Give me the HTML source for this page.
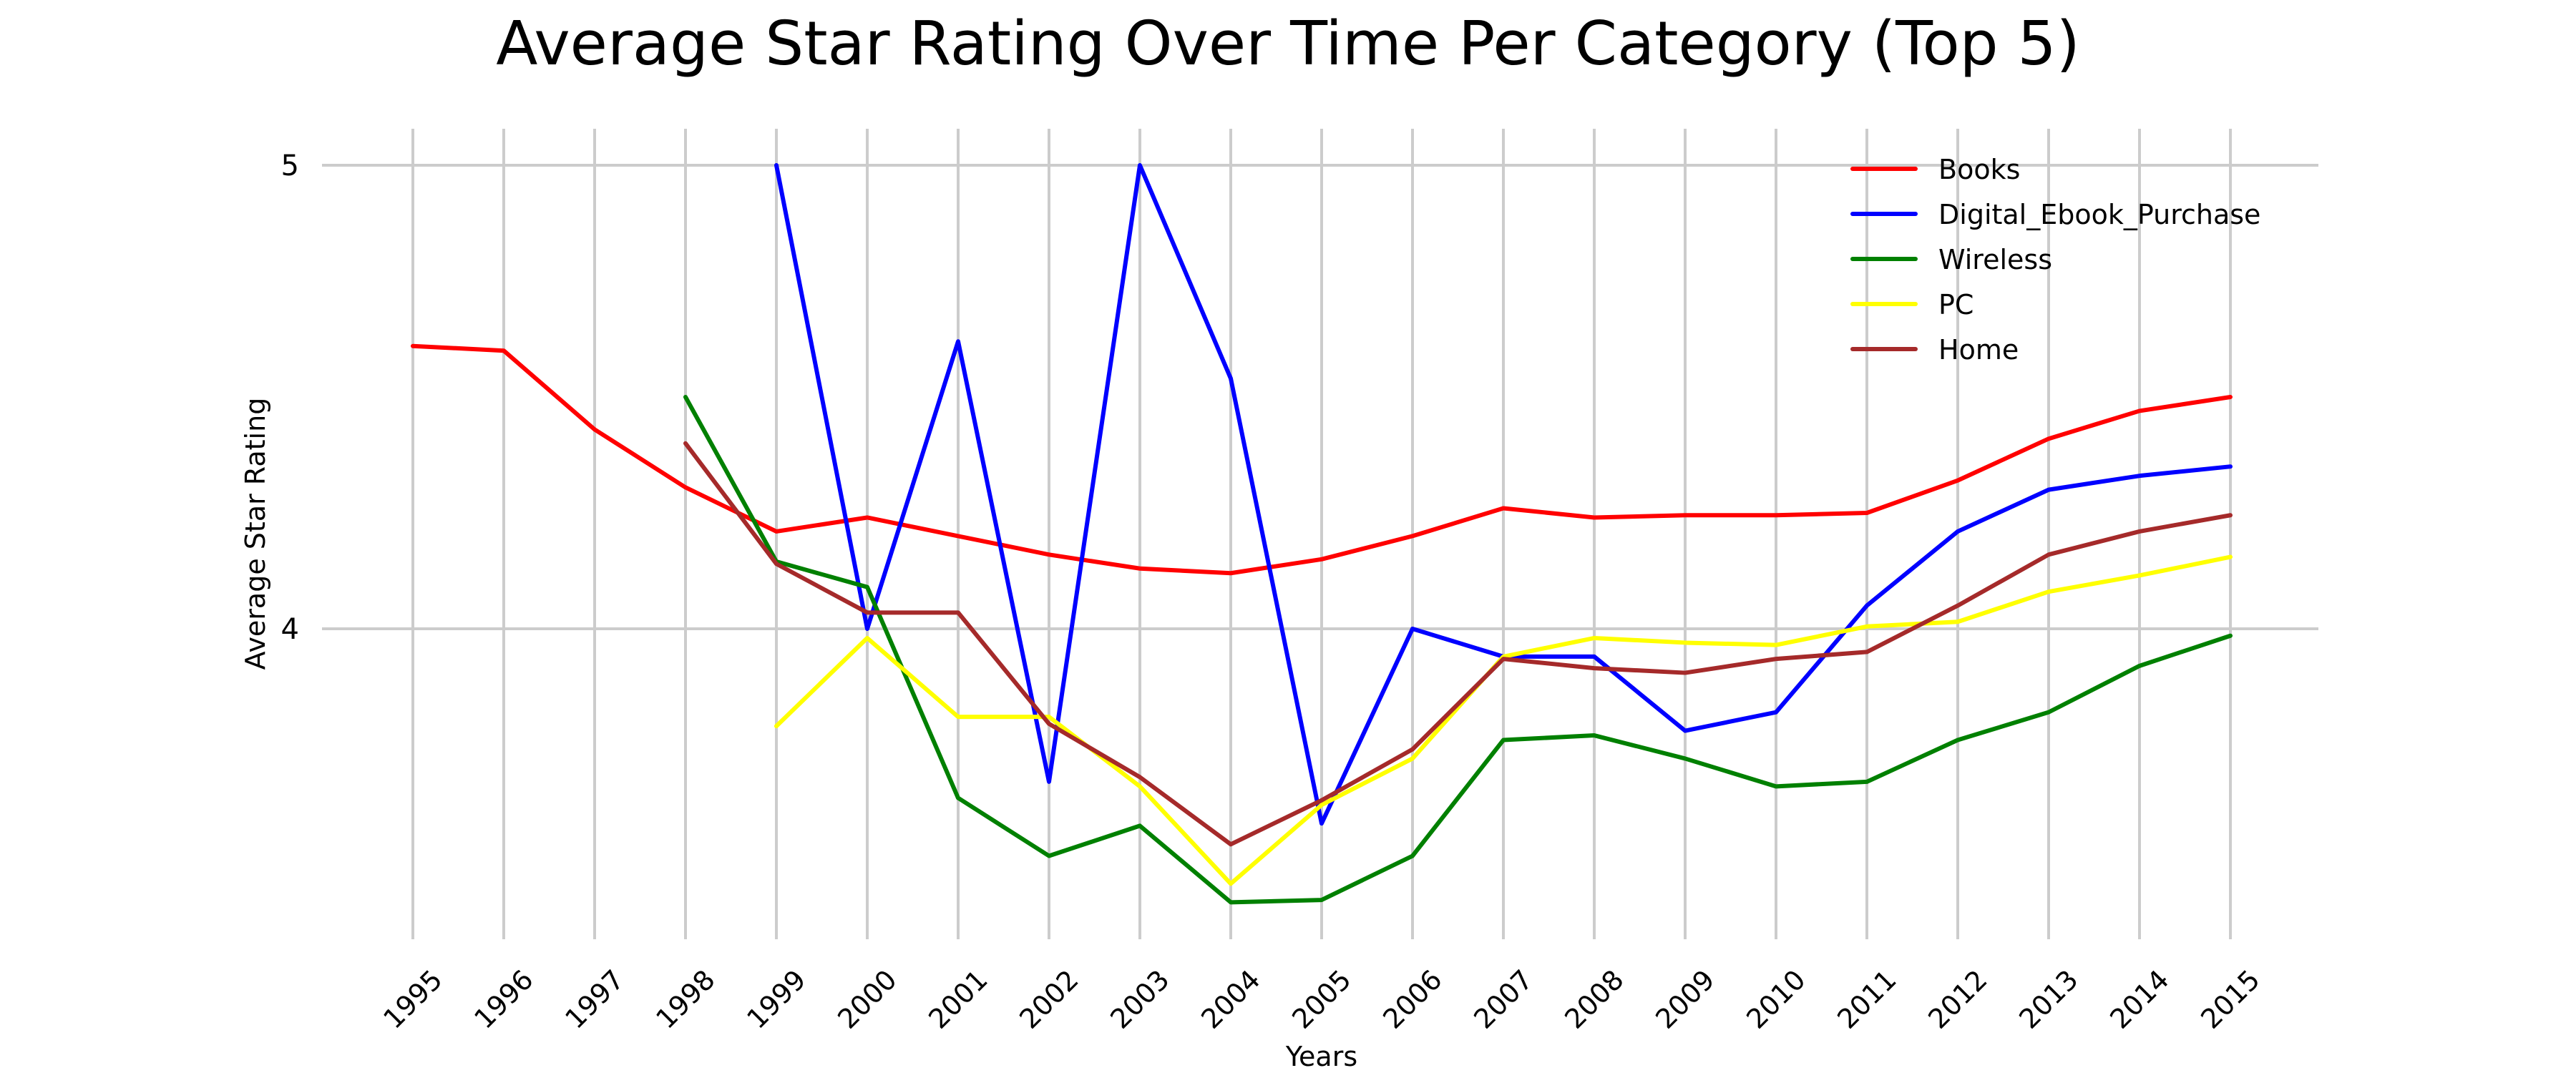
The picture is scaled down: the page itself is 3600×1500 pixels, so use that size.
<!DOCTYPE html>
<html><head><meta charset="utf-8"><style>
html,body{margin:0;padding:0;background:#fff}
svg{display:block;font-family:"DejaVu Sans","Liberation Sans",sans-serif}
</style></head><body>
<svg id="chart" width="3600" height="1500" viewBox="0 0 3600 1500" xmlns="http://www.w3.org/2000/svg">
<rect width="3600" height="1500" fill="#fff"/>
<text x="1800" y="90" font-size="85" text-anchor="middle" fill="#000">Average Star Rating Over Time Per Category (Top 5)</text>
<text transform="translate(370,746) rotate(-90)" font-size="38" text-anchor="middle" fill="#000">Average Star Rating</text>
<text x="1847" y="1490" font-size="38" text-anchor="middle" fill="#000">Years</text>
<g id="grid"></g>
<g id="ticks"></g>
<g id="series"></g>
<g id="legend"></g>
</svg>
<script>
const years = [1995,1996,1997,1998,1999,2000,2001,2002,2003,2004,2005,2006,2007,2008,2009,2010,2011,2012,2013,2014,2015];
const yTicks = [4,5];
const seriesNames = ["Books","Digital_Ebook_Purchase","Wireless","PC","Home"];
const seriesColors = ["#ff0000","#0000ff","#008000","#ffff00","#a52a2a"];
const books = [4.61,4.60,4.43,4.305,4.21,4.24,4.20,4.16,4.13,4.12,4.15,4.20,4.26,4.24,4.245,4.245,4.25,4.32,4.41,4.47,4.50];
const ebook = [null,null,null,null,5.0,4.0,4.62,3.67,5.0,4.54,3.58,4.0,3.94,3.94,3.78,3.82,4.05,4.21,4.30,4.33,4.35];
const wireless = [null,null,null,4.50,4.145,4.09,3.635,3.51,3.575,3.41,3.415,3.51,3.76,3.77,3.72,3.66,3.67,3.76,3.82,3.92,3.985];
const pc = [null,null,null,null,3.79,3.98,3.81,3.81,3.66,3.45,3.62,3.72,3.94,3.98,3.97,3.965,4.005,4.015,4.08,4.115,4.155];
const home = [null,null,null,4.40,4.14,4.035,4.035,3.795,3.68,3.535,3.63,3.74,3.935,3.915,3.905,3.935,3.95,4.05,4.16,4.21,4.245];
const allSeries = [books,ebook,wireless,pc,home];

const NS="http://www.w3.org/2000/svg";
const X0=577, XSTEP=127, Y5=231, YUNIT=648;
function xScale(year){return X0+(year-years[0])*XSTEP;}
function yScale(v){return Y5+(5-v)*YUNIT;}
function mk(tag,attrs,parent){const e=document.createElementNS(NS,tag);for(const k in attrs)e.setAttribute(k,attrs[k]);parent.appendChild(e);return e;}

const grid=document.getElementById('grid'), ticks=document.getElementById('ticks'), ser=document.getElementById('series'), leg=document.getElementById('legend');
years.forEach(y=>{
  const l=mk('line',{x1:xScale(y),x2:xScale(y),y1:180,y2:1313,stroke:'#cccccc','stroke-width':4},grid);
  
  
  const t=mk('text',{transform:`translate(${xScale(y)},1397) rotate(-45)`,'font-size':38,'text-anchor':'middle','dominant-baseline':'central',fill:'#000'},ticks);
  t.textContent=y;
  
  
});
yTicks.forEach(v=>{
  const l=mk('line',{x1:450,x2:3240,y1:yScale(v),y2:yScale(v),stroke:'#cccccc','stroke-width':4},grid);
  
  
  const t=mk('text',{x:418,y:yScale(v)+14,'font-size':40,'text-anchor':'end',fill:'#000'},ticks);
  t.textContent=v;
  
  
});
allSeries.forEach((vals,i)=>{
  const pts=[];
  vals.forEach((v,j)=>{if(v!==null)pts.push(xScale(years[j])+','+yScale(v));});
  const p=mk('polyline',{points:pts.join(' '),fill:'none',stroke:seriesColors[i],'stroke-width':6,'stroke-linejoin':'round','stroke-linecap':'round'},ser);
  
  
  const ly=236+i*63;
  const ll=mk('line',{x1:2589,x2:2677,y1:ly,y2:ly,stroke:seriesColors[i],'stroke-width':6,'stroke-linecap':'round'},leg);
  
  
  const lt=mk('text',{x:2709,y:ly+14,'font-size':38,fill:'#000'},leg);
  lt.textContent=seriesNames[i];
  
  
});
</script>
</body></html>
